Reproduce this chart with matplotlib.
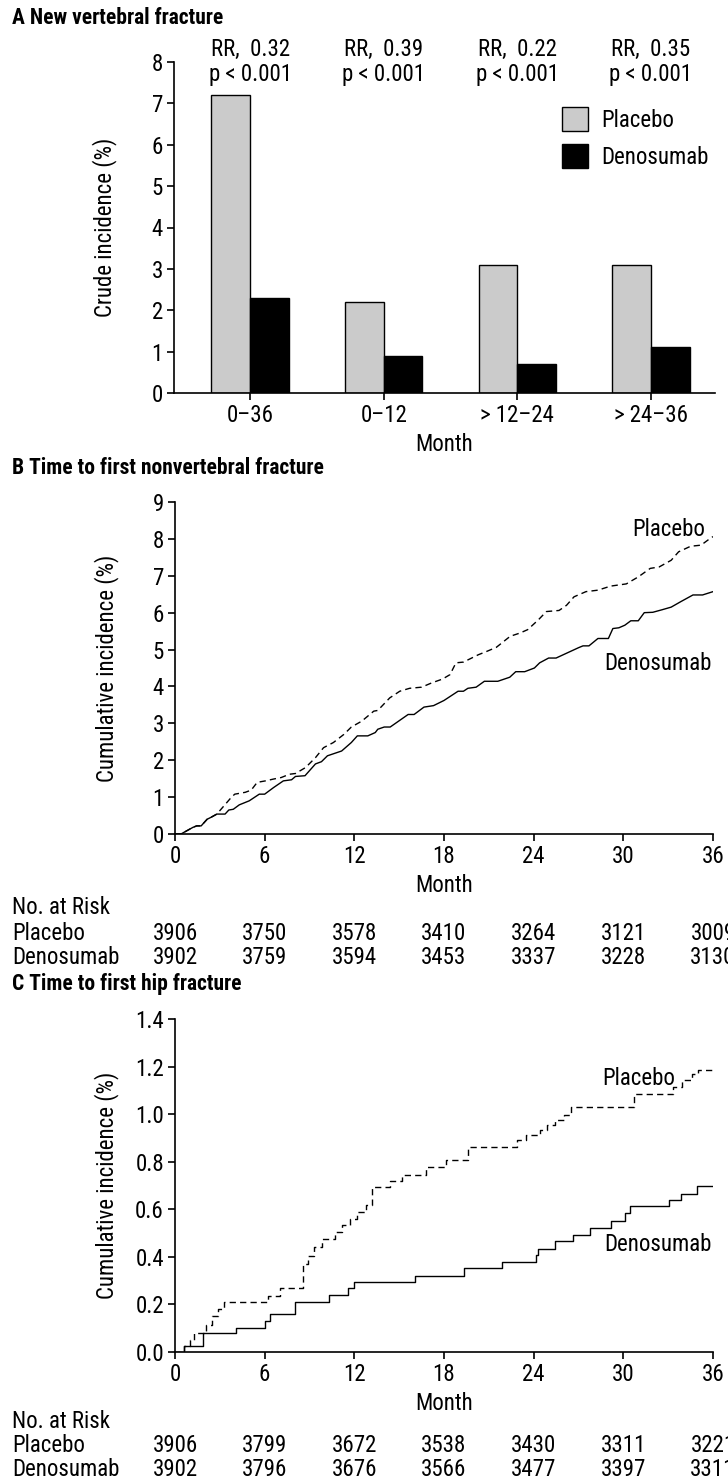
import matplotlib
matplotlib.use("Agg")
import matplotlib.pyplot as plt
from matplotlib import font_manager as fm
from matplotlib.patches import Patch
from matplotlib.transforms import blended_transform_factory


def pick_font(cands):
    for c in cands:
        try:
            fm.findfont(fm.FontProperties(family=c), fallback_to_default=False)
            return c
        except ValueError:
            pass
    return None


narrow = pick_font(['Liberation Sans Narrow', 'Roboto Condensed', 'DejaVu Sans Condensed',
                    'Open Sans Condensed', 'Noto Sans Condensed'])
if narrow:
    BASE = narrow
    FS = 16.5
    TFS = 15.5
else:
    BASE = 'Liberation Sans'
    FS = 14.5
    TFS = 13
plt.rcParams['font.family'] = [BASE, 'DejaVu Sans']

# Panel A data
groups = ["0\u201336", "0\u201312", "> 12\u201324", "> 24\u201336"]
placebo_a = [7.2, 2.2, 3.1, 3.1]
denosumab_a = [2.3, 0.9, 0.7, 1.1]
rr_text = ["RR,  0.32\np < 0.001", "RR,  0.39\np < 0.001",
           "RR,  0.22\np < 0.001", "RR,  0.35\np < 0.001"]

# Panel B data (month, cumulative incidence %)
pla_b_m = [0, 0.4, 1.2, 1.45, 1.75, 2.15, 2.4, 2.8, 3.1, 3.76, 4.0, 4.7, 5.1, 5.5, 6.05,
           6.6, 7.1, 7.66, 8.06, 8.73, 9.4, 9.94, 10.6, 11.3, 11.8, 12.5, 13.3, 13.57,
           14.37, 15.04, 15.7, 16.5, 17.2, 17.9, 18.4, 18.8, 19.3, 20.3, 20.8, 21.5,
           22.43, 23.1, 23.6, 24.3, 24.85, 25.7, 26.2, 26.7, 27.5, 28.3, 29.15, 30.2,
           31.0, 31.8, 32.4, 33.2, 33.7, 34.5, 35.2, 35.9, 36.0]
pla_b_v = [0, 0, 0.18, 0.22, 0.22, 0.4, 0.45, 0.54, 0.68, 0.99, 1.08, 1.13, 1.19, 1.4, 1.44,
           1.49, 1.53, 1.62, 1.64, 1.8, 2.07, 2.34, 2.48, 2.7, 2.9, 3.06, 3.33, 3.35,
           3.69, 3.87, 3.95, 3.98, 4.1, 4.2, 4.32, 4.64, 4.66, 4.86, 4.94, 5.06,
           5.36, 5.45, 5.54, 5.8, 6.03, 6.06, 6.2, 6.43, 6.57, 6.61, 6.72, 6.78,
           6.97, 7.2, 7.24, 7.42, 7.65, 7.8, 7.83, 8.04, 8.06]
den_b_m = [0, 0.4, 1.2, 1.45, 1.75, 2.15, 2.4, 2.8, 3.35, 3.6, 3.9, 4.3, 4.97, 5.64, 6.0,
           6.6, 7.25, 7.8, 8.06, 8.7, 9.4, 9.8, 10.2, 11.15, 11.8, 12.2, 12.9, 13.4,
           13.57, 14.0, 14.4, 15.6, 16.0, 16.66, 17.3, 18.0, 18.94, 19.3, 19.6, 20.15,
           20.7, 21.6, 22.4, 22.8, 23.4, 24.05, 24.4, 25.0, 25.5, 27.0, 27.3, 27.7,
           28.3, 29.0, 29.3, 29.7, 30.1, 30.5, 31.0, 31.4, 31.97, 32.6, 33.2, 33.85,
           34.66, 35.3, 36.0]
den_b_v = [0, 0, 0.18, 0.22, 0.22, 0.4, 0.45, 0.54, 0.54, 0.65, 0.67, 0.79, 0.9, 1.08, 1.08,
           1.26, 1.44, 1.47, 1.56, 1.58, 1.9, 1.96, 2.12, 2.25, 2.48, 2.66, 2.66, 2.75,
           2.84, 2.9, 2.9, 3.24, 3.24, 3.44, 3.48, 3.62, 3.87, 3.87, 3.95, 3.98,
           4.14, 4.14, 4.25, 4.4, 4.4, 4.5, 4.64, 4.77, 4.77, 5.05, 5.1, 5.1,
           5.3, 5.3, 5.57, 5.59, 5.66, 5.78, 5.78, 6.0, 6.01, 6.08, 6.15, 6.3,
           6.48, 6.48, 6.57]

# Panel C data (step times, cumulative incidence %)
pla_c_m = [0, 0.6, 1.0, 1.25, 2.1, 2.5, 2.9, 3.3, 6.25, 7.0, 8.55, 8.9, 9.3, 9.85, 10.7,
           11.2, 11.7, 12.2, 12.75, 13.2, 14.4, 15.2, 16.8, 18.13, 19.6, 22.9, 23.5,
           24.4, 24.9, 25.4, 26.0, 26.5, 30.7, 33.3, 33.9, 34.6, 35.0, 36]
pla_c_v = [0, 0.025, 0.05, 0.08, 0.115, 0.15, 0.18, 0.211, 0.235, 0.267, 0.37, 0.405,
           0.44, 0.475, 0.505, 0.535, 0.56, 0.59, 0.62, 0.695, 0.72, 0.745, 0.777, 0.807,
           0.86, 0.89, 0.912, 0.935, 0.955, 0.975, 0.996, 1.03, 1.085, 1.115, 1.145, 1.17,
           1.186, 1.186]
den_c_m = [0, 0.6, 1.9, 4.1, 6.0, 6.35, 8.05, 10.3, 11.55, 11.95, 16.05, 19.35, 21.9,
           24.13, 24.26, 25.4, 26.6, 27.8, 29.15, 30.1, 30.44, 33.05, 33.85, 34.9, 36]
den_c_v = [0, 0.025, 0.078, 0.103, 0.13, 0.159, 0.211, 0.239, 0.267, 0.293, 0.32, 0.353,
           0.377, 0.409, 0.433, 0.465, 0.493, 0.521, 0.549, 0.584, 0.612, 0.638, 0.666,
           0.696, 0.696]

# Numbers at risk
risk_months = [0, 6, 12, 18, 24, 30, 36]
risk_b_pla = [3906, 3750, 3578, 3410, 3264, 3121, 3009]
risk_b_den = [3902, 3759, 3594, 3453, 3337, 3228, 3130]
risk_c_pla = [3906, 3799, 3672, 3538, 3430, 3311, 3221]
risk_c_den = [3902, 3796, 3676, 3566, 3477, 3397, 3311]

W, H = 728, 1482
fig = plt.figure(figsize=(W / 100, H / 100), dpi=100)


def frac_box(x0, x1, ytop, ybot):
    return [x0 / W, 1 - ybot / H, (x1 - x0) / W, (ybot - ytop) / H]


def style(ax):
    for s in ['top', 'right']:
        ax.spines[s].set_visible(False)
    for s in ['left', 'bottom']:
        ax.spines[s].set_linewidth(1.2)
    ax.tick_params(direction='out', length=5, width=1.2, labelsize=FS, pad=3)


def title(ypix, text):
    fig.text(12 / W, 1 - ypix / H, text, fontsize=TFS, fontweight='bold',
             va='center', ha='left')


# ---- Panel A ----
title(18, "A New vertebral fracture")
axA = fig.add_axes(frac_box(174, 715, 62, 393))
style(axA)
x = list(range(len(groups)))
bw = 0.29
axA.bar([i - bw / 2 for i in x], placebo_a, bw, color='#cbcbcb', edgecolor='black', linewidth=1)
axA.bar([i + bw / 2 for i in x], denosumab_a, bw, color='black', edgecolor='black', linewidth=1)
axA.set_xlim(-0.57, 3.48)
axA.set_ylim(0, 8)
axA.set_yticks(range(0, 9))
axA.set_xticks(x)
axA.set_xticklabels(groups)
axA.set_xlabel("Month", fontsize=FS, labelpad=4)
axA.set_ylabel("Crude incidence (%)", fontsize=FS)
axA.yaxis.set_label_coords(-0.105, 0.5)
for i, t in zip(x, rr_text):
    axA.text(i, 8.0, t, ha='center', va='center', fontsize=FS,
             linespacing=1.1, clip_on=False)
handles = [Patch(facecolor='#cbcbcb', edgecolor='black', linewidth=1, label='Placebo'),
           Patch(facecolor='black', edgecolor='black', linewidth=1, label='Denosumab')]
axA.legend(handles=handles, loc='upper left', bbox_to_anchor=(0.717, 0.865),
           frameon=False, fontsize=FS, handlelength=1.15, handleheight=1.25,
           handletextpad=0.55, labelspacing=0.55, borderpad=0, borderaxespad=0)


def km_panel(ytop, ybot, ylim, yticks, yfmt):
    ax = fig.add_axes(frac_box(175, 713, ytop, ybot))
    style(ax)
    ax.set_xlim(0, 36)
    ax.set_ylim(*ylim)
    ax.set_xticks(risk_months)
    ax.set_yticks(yticks)
    ax.set_yticklabels([yfmt.format(v) for v in yticks])
    ax.set_xlabel("Month", fontsize=FS, labelpad=4)
    ax.set_ylabel("Cumulative incidence (%)", fontsize=FS)
    ax.yaxis.set_label_coords(-0.105, 0.5)
    return ax


def risk_table(ax, y_rows, pla, den):
    tr = blended_transform_factory(ax.transData, fig.transFigure)
    labels = ["No. at Risk", "Placebo", "Denosumab"]
    for lab, yp in zip(labels, y_rows):
        fig.text(12 / W, 1 - yp / H, lab, fontsize=FS, va='center', ha='left')
    for m, p, d in zip(risk_months, pla, den):
        ax.text(m, 1 - y_rows[1] / H, str(p), transform=tr, fontsize=FS,
                ha='center', va='center', clip_on=False)
        ax.text(m, 1 - y_rows[2] / H, str(d), transform=tr, fontsize=FS,
                ha='center', va='center', clip_on=False)


# ---- Panel B ----
title(468, "B Time to first nonvertebral fracture")
axB = km_panel(502, 834, (0, 9), list(range(0, 10)), "{:d}")
axB.plot(pla_b_m, pla_b_v, color='black', lw=1.0, dashes=(4.5, 3))
axB.plot(den_b_m, den_b_v, color='black', lw=1.0)
axB.text(30.6, 8.25, "Placebo", fontsize=FS, va='center', ha='left')
axB.text(28.7, 4.62, "Denosumab", fontsize=FS, va='center', ha='left')
risk_table(axB, [908, 933, 957], risk_b_pla, risk_b_den)

# ---- Panel C ----
title(984, "C Time to first hip fracture")
c_ticks = [0.0, 0.2, 0.4, 0.6, 0.8, 1.0, 1.2, 1.4]
axC = km_panel(1019, 1352, (0, 1.4), c_ticks, "{:.1f}")
axC.step(pla_c_m, pla_c_v, where='post', color='black', lw=1.0, dashes=(4.5, 3))
axC.step(den_c_m, den_c_v, where='post', color='black', lw=1.0)
axC.text(28.6, 1.15, "Placebo", fontsize=FS, va='center', ha='left')
axC.text(28.75, 0.45, "Denosumab", fontsize=FS, va='center', ha='left')
risk_table(axC, [1421, 1446, 1470], risk_c_pla, risk_c_den)

fig.savefig("out.png", dpi=100)
